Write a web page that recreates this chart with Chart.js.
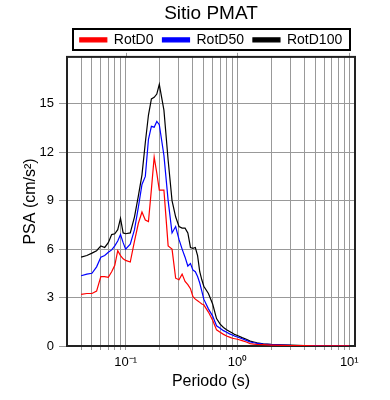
<!DOCTYPE html>
<html>
<head>
<meta charset="utf-8">
<script src="https://cdn.jsdelivr.net/npm/chart.js@4.4.1/dist/chart.umd.min.js"></script>
<style>
    html, body { margin: 0; padding: 0; background: #fff; }
</style>
</head>
<body>
<canvas id="psaChart" width="390" height="400"></canvas>
<script>
// Periodos (s) y espectros
const periods = [0.04, 0.045, 0.05, 0.055, 0.06, 0.065, 0.07, 0.075, 0.08, 0.085,
    0.09, 0.095, 0.1, 0.11, 0.12, 0.13, 0.14, 0.15, 0.16, 0.17,
    0.18, 0.19, 0.2, 0.22, 0.24, 0.26, 0.28, 0.3, 0.32, 0.34,
    0.36, 0.38, 0.4, 0.42, 0.44, 0.46, 0.48, 0.5, 0.55, 0.6,
    0.65, 0.7, 0.75, 0.8, 0.85, 0.9, 0.95, 1.0, 1.1, 1.2,
    1.3, 1.4, 1.5, 1.7, 2.0, 2.5, 3.0, 4.0, 5.0, 6.0, 7.5, 10.0];

const rotD0 = [3.2, 3.25, 3.25, 3.4, 4.3, 4.3, 4.25, 4.6, 5.0, 5.9,
    5.6, 5.4, 5.3, 5.2, 6.5, 7.6, 8.3, 7.8, 7.7, 9.7,
    11.7, 10.7, 9.65, 9.65, 6.2, 6.0, 4.2, 4.1, 4.45, 4.0,
    3.8, 3.55, 3.05, 2.9, 2.8, 2.7, 2.6, 2.55, 2.1, 1.6,
    1.0, 0.85, 0.72, 0.62, 0.55, 0.48, 0.45, 0.42, 0.33, 0.25,
    0.15, 0.12, 0.1, 0.08, 0.06, 0.04, 0.03, 0.02, 0.015, 0.01, 0.01, 0.01];

const rotD50 = [4.35, 4.45, 4.5, 4.9, 5.5, 5.6, 5.8, 5.95, 6.2, 6.5,
    6.9, 6.4, 6.0, 6.3, 7.2, 8.6, 10.0, 10.5, 12.8, 13.6,
    13.55, 13.9, 13.7, 11.8, 9.0, 7.0, 7.4, 6.6, 6.0, 5.5,
    4.95, 5.1, 4.7, 4.6, 4.3, 3.9, 3.4, 2.9, 2.3, 1.85,
    1.25, 1.1, 0.95, 0.85, 0.75, 0.68, 0.6, 0.56, 0.45, 0.35,
    0.25, 0.2, 0.16, 0.12, 0.08, 0.06, 0.04, 0.03, 0.02, 0.015, 0.01, 0.01];

const rotD100 = [5.5, 5.6, 5.75, 5.9, 6.2, 6.1, 6.4, 6.9, 6.95, 7.2,
    7.9, 7.0, 6.95, 7.0, 8.0, 9.3, 10.6, 12.6, 14.3, 15.3,
    15.4, 15.6, 16.2, 14.6, 11.5, 9.0, 8.0, 7.4, 7.3, 7.3,
    7.0, 6.1, 6.05, 6.1, 5.6, 4.6, 4.1, 3.7, 3.25, 2.6,
    1.7, 1.35, 1.15, 1.0, 0.9, 0.8, 0.7, 0.65, 0.52, 0.42,
    0.3, 0.25, 0.2, 0.14, 0.1, 0.07, 0.05, 0.03, 0.02, 0.015, 0.01, 0.01];

// Marcas de los ejes
const yTicks = [0, 3, 6, 9, 12, 15];
const xGridTicks = [0.04, 0.05, 0.06, 0.07, 0.08, 0.09,
    0.1, 0.2, 0.3, 0.4, 0.5, 0.6, 0.7, 0.8, 0.9,
    1, 2, 3, 4, 5, 6, 7, 8, 9, 10];
const decadeTicks = [0.1, 1, 10];
const decadeLabels = ['10⁻¹', '10⁰', '10¹'];

const gridColor = '#999999';

Chart.defaults.font.family = "'Liberation Sans', Arial, sans-serif";
Chart.defaults.color = '#000';

function toPoints(values) {
    return periods.map((t, i) => ({ x: t, y: values[i] }));
}

// Marco del grafico y recuadro de la leyenda
const framePlugin = {
    id: 'framePlugin',
    beforeDatasetsDraw(chart) {
        const ctx = chart.ctx;
        const a = chart.chartArea;
        ctx.save();
        ctx.strokeStyle = gridColor;
        ctx.lineWidth = 1;
        decadeTicks.forEach(v => {
            const x = Math.round(chart.scales.x.getPixelForValue(v)) + 0.5;
            ctx.beginPath();
            ctx.moveTo(x, a.top - 4);
            ctx.lineTo(x, a.top);
            ctx.stroke();
        });
        ctx.strokeStyle = '#222';
        ctx.lineWidth = 2;
        ctx.strokeRect(a.left, a.top, a.right - a.left, a.bottom - a.top);
        ctx.restore();
    },
    afterDraw(chart) {
        const boxes = chart.legend.legendHitBoxes;
        if (!boxes || !boxes.length) return;
        const ctx = chart.ctx;
        const left = Math.min(...boxes.map(b => b.left)) - 7;
        const right = Math.max(...boxes.map(b => b.left + b.width)) + 8;
        const mid = boxes[0].top + boxes[0].height / 2;
        ctx.save();
        ctx.strokeStyle = '#000';
        ctx.lineWidth = 2;
        ctx.strokeRect(Math.round(left), Math.round(mid - 10.5), Math.round(right - left), 21);
        ctx.restore();
    }
};

const ctx = document.getElementById('psaChart').getContext('2d');
const psaChart = new Chart(ctx, {
    type: 'line',
    data: {
        datasets: [
            { label: 'RotD0', data: toPoints(rotD0), borderColor: '#ff0000', backgroundColor: '#ff0000' },
            { label: 'RotD50', data: toPoints(rotD50), borderColor: '#0000ff', backgroundColor: '#0000ff' },
            { label: 'RotD100', data: toPoints(rotD100), borderColor: '#000000', backgroundColor: '#000000' }
        ]
    },
    options: {
        responsive: false,
        animation: false,
        layout: { padding: { left: 0, right: 35, top: 0, bottom: 0 } },
        elements: {
            line: { borderWidth: 1.2, tension: 0, fill: false },
            point: { radius: 0 }
        },
        plugins: {
            title: {
                display: true,
                text: 'Sitio PMAT',
                fullSize: false,
                color: '#000',
                font: { size: 19, weight: 'normal', lineHeight: 1.1 },
                padding: { top: 3, bottom: 0 }
            },
            legend: {
                display: true,
                fullSize: false,
                labels: {
                    boxWidth: 27,
                    boxHeight: 4,
                    padding: 9,
                    color: '#000',
                    font: { size: 14 }
                }
            },
            tooltip: { enabled: false }
        },
        scales: {
            x: {
                type: 'logarithmic',
                min: 0.0299,
                max: 11.25,
                afterBuildTicks: scale => {
                    scale.ticks = xGridTicks.map(v => ({ value: v }));
                },
                afterFit: scale => { scale.height = 54; },
                ticks: {
                    autoSkip: false,
                    maxRotation: 0,
                    padding: 5,
                    color: '#000',
                    font: { size: 13 },
                    callback: value => {
                        const k = decadeTicks.findIndex(d => Math.abs(d - value) < 1e-9);
                        return k >= 0 ? decadeLabels[k] : '';
                    }
                },
                grid: { color: gridColor, tickColor: gridColor, tickLength: 4, lineWidth: 1 },
                border: { display: false },
                title: {
                    display: true,
                    text: 'Periodo (s)',
                    color: '#000',
                    font: { size: 16 },
                    padding: { top: 0, bottom: 9 }
                }
            },
            y: {
                type: 'linear',
                min: 0,
                max: 17.9,
                afterBuildTicks: scale => {
                    scale.ticks = yTicks.map(v => ({ value: v }));
                },
                afterFit: scale => { scale.width = 67; },
                ticks: {
                    padding: 5,
                    color: '#000',
                    font: { size: 13 }
                },
                grid: { color: gridColor, tickColor: gridColor, tickLength: 8, lineWidth: 1 },
                border: { display: false },
                title: {
                    display: true,
                    text: 'PSA (cm/s²)',
                    color: '#000',
                    font: { size: 16 },
                    padding: { top: 21, bottom: 0 }
                }
            }
        }
    },
    plugins: [framePlugin]
});
</script>
</body>
</html>
